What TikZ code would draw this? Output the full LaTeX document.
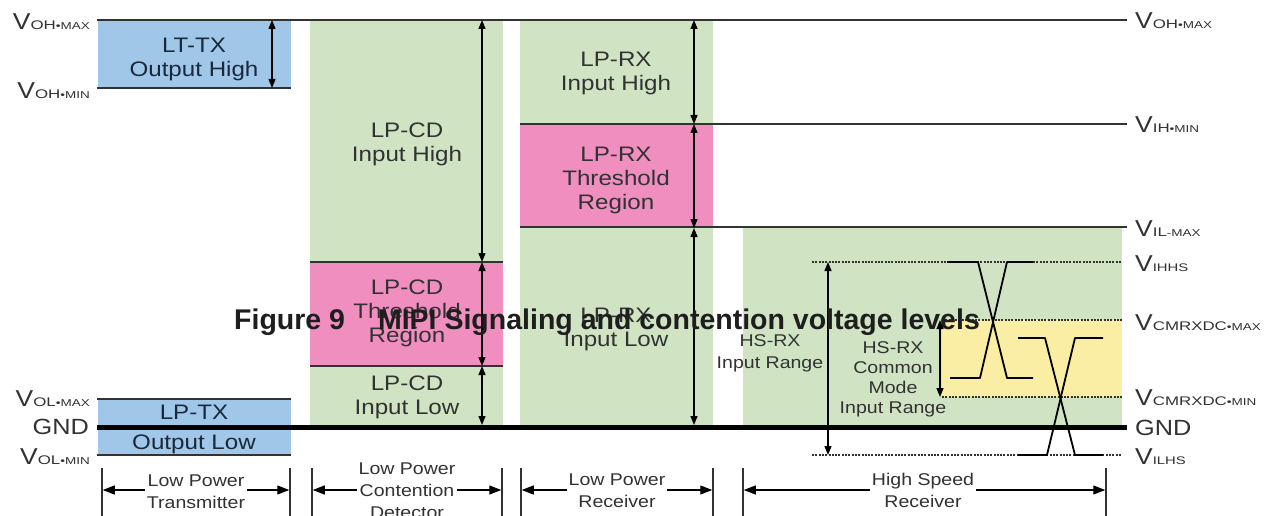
\documentclass[tikz,border=0pt]{standalone}
\usepackage{fontspec}
\setmainfont[FakeStretch=1.15]{Liberation Sans}
\newfontfamily\capfont{Liberation Sans}
\newfontfamily\subfont[FakeStretch=1.35]{Liberation Sans}
\usetikzlibrary{arrows.meta}
\definecolor{ltblue}{RGB}{160,199,232}
\definecolor{ltgreen}{RGB}{208,228,196}
\definecolor{ltpink}{RGB}{239,142,191}
\definecolor{ltyellow}{RGB}{250,238,165}
\definecolor{linegray}{RGB}{50,50,50}
\definecolor{txtgray}{RGB}{50,50,50}
\definecolor{navytxt}{RGB}{25,40,60}
\definecolor{captxt}{RGB}{30,30,30}
\newcommand\VV[2]{{\fontsize{23}{23}\selectfont V}{\subfont\fontsize{12.5}{12.5}\selectfont #1}{\subfont\fontsize{10}{10}\selectfont #2}}
\newcommand\VS[1]{{\fontsize{23}{23}\selectfont V}{\subfont\fontsize{11}{11}\selectfont #1}}
\begin{document}
\begin{tikzpicture}[x=1pt,y=-1pt,
  lvl/.style={line width=2pt,draw=linegray},
  gndl/.style={line width=5pt,draw=black},
  dotl/.style={line width=1.6pt,draw=linegray,dash pattern=on 2pt off 1.3pt},
  dim/.style={line width=1.3pt,draw=black,arrows={Triangle[length=9pt,width=7pt]-Triangle[length=9pt,width=7pt]}},
  brk/.style={line width=1.3pt,draw=black,arrows={Triangle[length=12pt,width=9pt]-Triangle[length=12pt,width=9pt]}},
  bar/.style={line width=1.5pt,draw=linegray},
  wave/.style={line width=1.8pt,draw=black,line join=round},
  boxtxt/.style={align=center,text=txtgray,font=\fontsize{21}{24}\selectfont,inner sep=0pt},
  bottxt/.style={align=center,text=txtgray,font=\fontsize{17}{22}\selectfont,fill=white,inner xsep=2pt,inner ysep=0pt},
  hstxt/.style={align=center,text=txtgray,font=\fontsize{17}{22}\selectfont,inner sep=0pt},
  llab/.style={anchor=base east,inner sep=0pt,text=linegray},
  rlab/.style={anchor=base west,inner sep=0pt,text=linegray}]
\useasboundingbox (0,0) rectangle (1269,516);
\fill[white] (0,0) rectangle (1269,516);
% region fills
\fill[ltblue] (98,20) rectangle (291,88);
\fill[ltgreen] (310,20) rectangle (503,427);
\fill[ltpink] (310,262) rectangle (503,366);
\fill[ltgreen] (520,20) rectangle (713,427);
\fill[ltpink] (520,124) rectangle (713,228);
\fill[ltgreen] (743,228) rectangle (1122,427);
\fill[ltyellow] (942,320) rectangle (1122,397);
\fill[ltblue] (98,399) rectangle (291,455);
% level lines
\coordinate (ohmaxL) at (97,20);   \coordinate (ohmaxR) at (1127,20);
\coordinate (ohminL) at (97,88);   \coordinate (ohminR) at (291,88);
\coordinate (olmaxL) at (97,399);  \coordinate (olmaxR) at (291,399);
\coordinate (olminL) at (97,455);  \coordinate (olminR) at (291,455);
\coordinate (ihminL) at (520,124); \coordinate (ihminR) at (1127,124);
\coordinate (ilmaxL) at (520,227); \coordinate (ilmaxR) at (1127,227);
\coordinate (cdtL) at (310,262);   \coordinate (cdtR) at (503,262);
\coordinate (cdbL) at (310,366);   \coordinate (cdbR) at (503,366);
\draw[lvl] (ohmaxL) -- (ohmaxR);
\draw[lvl] (ohminL) -- (ohminR);
\draw[lvl] (olmaxL) -- (olmaxR);
\draw[lvl] (olminL) -- (olminR);
\draw[lvl] (ihminL) -- (ihminR);
\draw[lvl] (ilmaxL) -- (ilmaxR);
\draw[lvl] (cdtL) -- (cdtR);
\draw[lvl] (cdbL) -- (cdbR);
% dotted HS levels
\coordinate (ihhsL) at (812,262); \coordinate (ihhsR) at (1122,262);
\coordinate (cmxL) at (942,320);  \coordinate (cmxR) at (1122,320);
\coordinate (cmnL) at (942,397);  \coordinate (cmnR) at (1122,397);
\coordinate (ilhsL) at (812,455); \coordinate (ilhsR) at (1122,455);
\draw[dotl] (ihhsL) -- (ihhsR);
\draw[dotl] (cmxL) -- (cmxR);
\draw[dotl] (cmnL) -- (cmnR);
\draw[dotl] (ilhsL) -- (ilhsR);
% dimension arrows
\coordinate (t1) at (272,20);  \coordinate (t2) at (272,88);
\coordinate (c1) at (482,20);  \coordinate (c2) at (482,262);
\coordinate (c3) at (482,366); \coordinate (c4) at (482,425);
\coordinate (r1) at (694,20);  \coordinate (r2) at (694,124);
\coordinate (r3) at (694,228); \coordinate (r4) at (694,425);
\coordinate (h1) at (828,262); \coordinate (h2) at (828,455);
\coordinate (m1) at (940,320); \coordinate (m2) at (940,397);
\draw[dim] (t1) -- (t2);
\draw[dim] (c1) -- (c2);
\draw[dim] (c2) -- (c3);
\draw[dim] (c3) -- (c4);
\draw[dim] (r1) -- (r2);
\draw[dim] (r2) -- (r3);
\draw[dim] (r3) -- (r4);
\draw[dim] (h1) -- (h2);
\draw[dim] (m1) -- (m2);
% HS waveforms
\draw[wave] (947,262) -- (978,262) -- (1007,378) -- (1033,378);
\draw[wave] (950,378) -- (980,378) -- (1007,262) -- (1033,262);
\draw[wave] (1018,338) -- (1045,338) -- (1075,455) -- (1103,455);
\draw[wave] (1018,455) -- (1047,455) -- (1075,338) -- (1103,338);
% GND line
\coordinate (gndL) at (97,427); \coordinate (gndR) at (1127,427);
\draw[gndl] (gndL) -- (gndR);
% region texts
\node[boxtxt,text=navytxt] (lttx) at (194,59) {LT-TX\\Output High};
\node[boxtxt,text=navytxt] (lptx1) at (194,412) {LP-TX};
\node[boxtxt,text=navytxt] (lptx2) at (194,444) {Output Low};
\node[boxtxt] (cdih) at (407,144) {LP-CD\\Input High};
\node[boxtxt] (cdth) at (407,313) {LP-CD\\Threshold\\Region};
\node[boxtxt] (cdil) at (407,397) {LP-CD\\Input Low};
\node[boxtxt] (rxih) at (616,73) {LP-RX\\Input High};
\node[boxtxt] (rxth) at (616,180) {LP-RX\\Threshold\\Region};
\node[boxtxt] (rxil) at (616,329) {LP-RX\\Input Low};
\node[hstxt] (hsir) at (770,353) {HS-RX\\Input Range};
\node[hstxt,font=\fontsize{17}{20}\selectfont] (hscm) at (893,379) {HS-RX\\Common\\Mode\\Input Range};
% bottom brackets
\foreach \n/\x in {b1/102,b2/290,b3/312,b4/502,b5/521,b6/713,b7/743,b8/1106}{
  \coordinate (\n t) at (\x,468); \coordinate (\n b) at (\x,516); \coordinate (\n) at (\x,490);
  \draw[bar] (\n t) -- (\n b);}
\draw[brk] ([xshift=0.75pt]b1) -- ([xshift=-0.75pt]b2);
\draw[brk] ([xshift=0.75pt]b3) -- ([xshift=-0.75pt]b4);
\draw[brk] ([xshift=0.75pt]b5) -- ([xshift=-0.75pt]b6);
\draw[brk] ([xshift=0.75pt]b7) -- ([xshift=-0.75pt]b8);
\node[bottxt] (lpt) at (196,492) {Low Power\\Transmitter};
\node[bottxt] (lpc) at (407,490.5) {Low Power\\Contention\\Detector};
\node[bottxt] (lpr) at (617,491) {Low Power\\Receiver};
\node[bottxt] (hsr) at (923,490) {High Speed\\Receiver};
% left labels
\node[llab] (lohmax) at (90,30) {\VV{OH}{\textbullet MAX}};
\node[llab] (lohmin) at (90,99) {\VV{OH}{\textbullet MIN}};
\node[llab] (lolmax) at (90,406) {\VV{OL}{\textbullet MAX}};
\node[llab,font=\fontsize{22}{22}\selectfont] (lgnd) at (89,434) {GND};
\node[llab] (lolmin) at (90,464) {\VV{OL}{\textbullet MIN}};
% right labels
\node[rlab] (rohmax) at (1135,29) {\VV{OH}{\textbullet MAX}};
\node[rlab] (rihmin) at (1135,133) {\VV{IH}{\textbullet MIN}};
\node[rlab] (rilmax) at (1135,236) {\VV{IL}{-MAX}};
\node[rlab] (rihhs) at (1135,271) {\VS{IHHS}};
\node[rlab] (rcmx) at (1135,330) {\VV{CMRXDC}{\textbullet MAX}};
\node[rlab] (rcmn) at (1135,405) {\VV{CMRXDC}{\textbullet MIN}};
\node[rlab,font=\fontsize{22}{22}\selectfont] (rgnd) at (1135,435) {GND};
\node[rlab] (rilhs) at (1135,464) {\VS{ILHS}};
% caption overlay
\node[anchor=base west,inner sep=0pt,text=captxt,font=\capfont\bfseries\fontsize{28.5}{30}\selectfont] (cap) at (234,329) {Figure 9\hspace{33pt}MIPI Signaling and contention voltage levels};
\end{tikzpicture}
\end{document}
